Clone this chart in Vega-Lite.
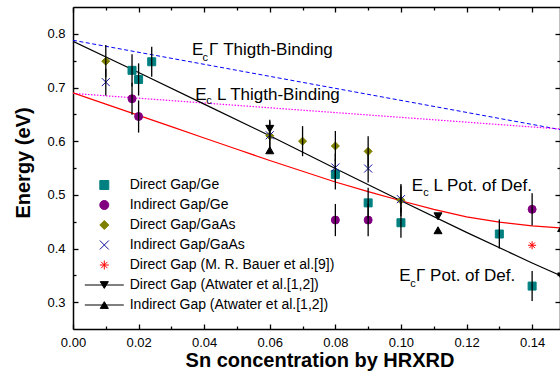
{
  "$schema": "https://vega.github.io/schema/vega-lite/v6.json",
  "width": 487,
  "height": 322,
  "autosize": {"type": "none"},
  "padding": {"left": 73, "top": 7, "right": 0, "bottom": 45},
  "config": {
    "view": {"stroke": null},
    "font": "Liberation Sans",
    "axis": {
      "grid": false,
      "domainColor": "#000",
      "domainWidth": 1.5,
      "tickColor": "#000",
      "tickWidth": 1.3,
      "labelColor": "#000",
      "labelFont": "Liberation Sans",
      "labelFontSize": 13,
      "titleFont": "Liberation Sans",
      "titleColor": "#000"
    }
  },
  "datasets": {
    "pts": [
      {"s": "Direct Gap/Ge", "x": 0.018, "y": 0.732, "lo": 0.702, "hi": 0.762},
      {"s": "Direct Gap/Ge", "x": 0.020, "y": 0.715, "lo": 0.685, "hi": 0.745},
      {"s": "Direct Gap/Ge", "x": 0.024, "y": 0.748, "lo": 0.720, "hi": 0.776},
      {"s": "Direct Gap/Ge", "x": 0.080, "y": 0.538, "lo": 0.510, "hi": 0.566},
      {"s": "Direct Gap/Ge", "x": 0.090, "y": 0.485, "lo": 0.457, "hi": 0.513},
      {"s": "Direct Gap/Ge", "x": 0.100, "y": 0.448, "lo": 0.420, "hi": 0.476},
      {"s": "Direct Gap/Ge", "x": 0.130, "y": 0.427, "lo": 0.400, "hi": 0.454},
      {"s": "Direct Gap/Ge", "x": 0.140, "y": 0.330, "lo": 0.302, "hi": 0.358},
      {"s": "Indirect Gap/Ge", "x": 0.018, "y": 0.679, "lo": 0.649, "hi": 0.709},
      {"s": "Indirect Gap/Ge", "x": 0.020, "y": 0.646, "lo": 0.616, "hi": 0.676},
      {"s": "Indirect Gap/Ge", "x": 0.080, "y": 0.453, "lo": 0.423, "hi": 0.483},
      {"s": "Indirect Gap/Ge", "x": 0.090, "y": 0.453, "lo": 0.423, "hi": 0.483},
      {"s": "Indirect Gap/Ge", "x": 0.140, "y": 0.473, "lo": 0.443, "hi": 0.503},
      {"s": "Direct Gap/GaAs", "x": 0.010, "y": 0.749, "lo": 0.719, "hi": 0.779},
      {"s": "Direct Gap/GaAs", "x": 0.060, "y": 0.610, "lo": 0.580, "hi": 0.640},
      {"s": "Direct Gap/GaAs", "x": 0.070, "y": 0.600, "lo": 0.572, "hi": 0.628},
      {"s": "Direct Gap/GaAs", "x": 0.080, "y": 0.591, "lo": 0.563, "hi": 0.619},
      {"s": "Direct Gap/GaAs", "x": 0.090, "y": 0.581, "lo": 0.553, "hi": 0.609},
      {"s": "Direct Gap/GaAs", "x": 0.100, "y": 0.490, "lo": 0.460, "hi": 0.520},
      {"s": "Indirect Gap/GaAs", "x": 0.010, "y": 0.710, "lo": 0.685, "hi": 0.735},
      {"s": "Indirect Gap/GaAs", "x": 0.060, "y": 0.611, "lo": 0.585, "hi": 0.637},
      {"s": "Indirect Gap/GaAs", "x": 0.080, "y": 0.551, "lo": 0.525, "hi": 0.577},
      {"s": "Indirect Gap/GaAs", "x": 0.090, "y": 0.549, "lo": 0.523, "hi": 0.575},
      {"s": "Indirect Gap/GaAs", "x": 0.100, "y": 0.492, "lo": 0.467, "hi": 0.517},
      {"s": "Direct Gap (M. R. Bauer et al.[9])", "x": 0.140, "y": 0.406},
      {"s": "Direct Gap (Atwater et al.[1,2])", "x": 0.060, "y": 0.623},
      {"s": "Direct Gap (Atwater et al.[1,2])", "x": 0.1113, "y": 0.460},
      {"s": "Direct Gap (Atwater et al.[1,2])", "x": 0.149, "y": 0.348},
      {"s": "Indirect Gap (Atwater et al.[1,2])", "x": 0.060, "y": 0.583},
      {"s": "Indirect Gap (Atwater et al.[1,2])", "x": 0.1113, "y": 0.434},
      {"s": "Indirect Gap (Atwater et al.[1,2])", "x": 0.149, "y": 0.438}
    ],
    "curves": [
      {"c": "gTB", "x": 0.0, "y": 0.788},
      {"c": "gTB", "x": 0.15, "y": 0.620},
      {"c": "lTB", "x": 0.0, "y": 0.689},
      {"c": "lTB", "x": 0.15, "y": 0.622},
      {"c": "gPD", "x": 0.00, "y": 0.786},
      {"c": "gPD", "x": 0.02, "y": 0.728},
      {"c": "gPD", "x": 0.04, "y": 0.669},
      {"c": "gPD", "x": 0.06, "y": 0.610},
      {"c": "gPD", "x": 0.08, "y": 0.549},
      {"c": "gPD", "x": 0.10, "y": 0.489},
      {"c": "gPD", "x": 0.12, "y": 0.430},
      {"c": "gPD", "x": 0.14, "y": 0.373},
      {"c": "gPD", "x": 0.15, "y": 0.346},
      {"c": "lPD", "x": 0.00, "y": 0.690},
      {"c": "lPD", "x": 0.01, "y": 0.669},
      {"c": "lPD", "x": 0.02, "y": 0.648},
      {"c": "lPD", "x": 0.03, "y": 0.627},
      {"c": "lPD", "x": 0.04, "y": 0.606},
      {"c": "lPD", "x": 0.05, "y": 0.585},
      {"c": "lPD", "x": 0.06, "y": 0.564},
      {"c": "lPD", "x": 0.07, "y": 0.544},
      {"c": "lPD", "x": 0.08, "y": 0.524},
      {"c": "lPD", "x": 0.09, "y": 0.506},
      {"c": "lPD", "x": 0.10, "y": 0.489},
      {"c": "lPD", "x": 0.11, "y": 0.473},
      {"c": "lPD", "x": 0.12, "y": 0.459},
      {"c": "lPD", "x": 0.13, "y": 0.449},
      {"c": "lPD", "x": 0.14, "y": 0.442},
      {"c": "lPD", "x": 0.15, "y": 0.438}
    ],
    "notes": [
      {"k": "main", "t": "E", "x": 0.0363, "y": 0.760},
      {"k": "sub", "t": "c", "x": 0.0395, "y": 0.749},
      {"k": "main", "t": "Γ Thigth-Binding", "x": 0.0415, "y": 0.760},
      {"k": "main", "t": "E", "x": 0.0373, "y": 0.676},
      {"k": "sub", "t": "c", "x": 0.0406, "y": 0.669},
      {"k": "main", "t": "L Thigth-Binding", "x": 0.0439, "y": 0.676},
      {"k": "main", "t": "E", "x": 0.1033, "y": 0.507},
      {"k": "sub", "t": "c", "x": 0.1068, "y": 0.497},
      {"k": "main", "t": "L Pot. of Def.", "x": 0.1099, "y": 0.507},
      {"k": "main", "t": "E", "x": 0.0995, "y": 0.339},
      {"k": "sub", "t": "c", "x": 0.1028, "y": 0.329},
      {"k": "main", "t": "Γ Pot. of Def.", "x": 0.1046, "y": 0.339}
    ]
  },
  "resolve": {
    "scale": {"fill": "independent", "stroke": "independent", "shape": "independent", "size": "independent"},
    "axis": {"x": "independent", "y": "independent"}
  },
  "layer": [
    {
      "data": {"name": "curves"},
      "transform": [{"filter": {"field": "c", "equal": "gTB"}}],
      "mark": {"type": "line", "stroke": "#0000ff", "strokeWidth": 1, "strokeDash": [4, 2.5], "clip": true},
      "encoding": {
        "x": {"field": "x", "type": "quantitative", "scale": {"domain": [0, 0.1485], "nice": false, "zero": false},
          "axis": {"orient": "bottom", "values": [0, 0.02, 0.04, 0.06, 0.08, 0.1, 0.12, 0.14], "format": ".2f", "tickSize": -5, "labelPadding": 22.7, "labelBaseline": "alphabetic", "labelFlush": false, "labelOverlap": false,
            "title": "Sn concentration by HRXRD", "titleFontSize": 20, "titleFontWeight": "bold", "titleX": 246.5, "titleY": 37.7, "titleBaseline": "alphabetic", "titleAlign": "center", "titleAnchor": null}},
        "y": {"field": "y", "type": "quantitative", "scale": {"domain": [0.25, 0.85], "nice": false, "zero": false},
          "axis": {"orient": "left", "values": [0.3, 0.4, 0.5, 0.6, 0.7, 0.8], "format": ".1f", "tickSize": -5, "labelPadding": 13, "labelFlush": false, "labelOverlap": false,
            "title": "Energy (eV)", "titleFontSize": 20, "titleFontWeight": "bold", "titleX": -43.7, "titleY": 155.5, "titleBaseline": "alphabetic", "titleAlign": "center", "titleAngle": -90, "titleAnchor": null}}
      }
    },
    {
      "data": {"name": "curves"},
      "transform": [{"filter": {"field": "c", "equal": "lTB"}}],
      "mark": {"type": "line", "stroke": "#ff00ff", "strokeWidth": 1.2, "strokeDash": [1.5, 1.5], "clip": true},
      "encoding": {
        "x": {"field": "x", "type": "quantitative", "scale": {"domain": [0, 0.1485], "nice": false, "zero": false},
          "axis": {"orient": "bottom", "values": [0.01, 0.03, 0.05, 0.07, 0.09, 0.11, 0.13], "labels": false, "domain": false, "tickSize": -3, "title": null}},
        "y": {"field": "y", "type": "quantitative", "scale": {"domain": [0.25, 0.85], "nice": false, "zero": false},
          "axis": {"orient": "left", "values": [0.35, 0.45, 0.55, 0.65, 0.75], "labels": false, "domain": false, "tickSize": -3, "title": null}}
      }
    },
    {
      "data": {"name": "curves"},
      "transform": [{"filter": {"field": "c", "equal": "lPD"}}],
      "mark": {"type": "line", "stroke": "#ff0000", "strokeWidth": 1.2, "clip": true},
      "encoding": {
        "x": {"field": "x", "type": "quantitative", "scale": {"domain": [0, 0.1485], "nice": false, "zero": false},
          "axis": {"orient": "top", "values": [0, 0.02, 0.04, 0.06, 0.08, 0.1, 0.12, 0.14], "labels": false, "tickSize": -5, "title": null}},
        "y": {"field": "y", "type": "quantitative", "scale": {"domain": [0.25, 0.85], "nice": false, "zero": false},
          "axis": {"orient": "right", "values": [0.3, 0.4, 0.5, 0.6, 0.7, 0.8], "labels": false, "tickSize": -5, "title": null}}
      }
    },
    {
      "data": {"name": "curves"},
      "transform": [{"filter": {"field": "c", "equal": "gPD"}}],
      "mark": {"type": "line", "stroke": "#000000", "strokeWidth": 1.2, "clip": true},
      "encoding": {
        "x": {"field": "x", "type": "quantitative", "scale": {"domain": [0, 0.1485], "nice": false, "zero": false},
          "axis": {"orient": "top", "values": [0.01, 0.03, 0.05, 0.07, 0.09, 0.11, 0.13], "labels": false, "domain": false, "tickSize": -3, "title": null}},
        "y": {"field": "y", "type": "quantitative", "scale": {"domain": [0.25, 0.85], "nice": false, "zero": false},
          "axis": {"orient": "right", "values": [0.35, 0.45, 0.55, 0.65, 0.75], "labels": false, "domain": false, "tickSize": -3, "title": null}}
      }
    },
    {
      "data": {"name": "pts"},
      "mark": {"type": "point", "filled": true, "strokeWidth": 1, "opacity": 1, "clip": true},
      "encoding": {
        "x": {"field": "x", "type": "quantitative", "scale": {"domain": [0, 0.1485], "nice": false, "zero": false}, "axis": null},
        "y": {"field": "y", "type": "quantitative", "scale": {"domain": [0.25, 0.85], "nice": false, "zero": false}, "axis": null},
        "fill": {"field": "s", "type": "nominal", "legend": null,
          "scale": {"domain": ["Direct Gap/Ge", "Indirect Gap/Ge", "Direct Gap/GaAs", "Indirect Gap/GaAs", "Direct Gap (M. R. Bauer et al.[9])", "Direct Gap (Atwater et al.[1,2])", "Indirect Gap (Atwater et al.[1,2])"],
            "range": ["#008080", "#800080", "#808000", "#1010a0", "#ff0000", "#000000", "#000000"]}},
        "stroke": {"field": "s", "type": "nominal", "legend": null,
          "scale": {"domain": ["Direct Gap/Ge", "Indirect Gap/Ge", "Direct Gap/GaAs", "Indirect Gap/GaAs", "Direct Gap (M. R. Bauer et al.[9])", "Direct Gap (Atwater et al.[1,2])", "Indirect Gap (Atwater et al.[1,2])"],
            "range": ["#008080", "#800080", "#808000", "#1010a0", "#ff0000", "#000000", "#000000"]}},
        "shape": {"field": "s", "type": "nominal", "legend": null,
          "scale": {"domain": ["Direct Gap/Ge", "Indirect Gap/Ge", "Direct Gap/GaAs", "Indirect Gap/GaAs", "Direct Gap (M. R. Bauer et al.[9])", "Direct Gap (Atwater et al.[1,2])", "Indirect Gap (Atwater et al.[1,2])"],
            "range": ["square", "circle", "diamond", "M-1,-1L1,1M-1,1L1,-1", "M-1,0L1,0M0,-1L0,1M-0.7,-0.7L0.7,0.7M-0.7,0.7L0.7,-0.7", "triangle-down", "triangle-up"]}},
        "size": {"field": "s", "type": "ordinal", "legend": null,
          "scale": {"domain": ["Direct Gap/Ge", "Indirect Gap/Ge", "Direct Gap/GaAs", "Indirect Gap/GaAs", "Direct Gap (M. R. Bauer et al.[9])", "Direct Gap (Atwater et al.[1,2])", "Indirect Gap (Atwater et al.[1,2])"],
            "range": [64, 64, 81, 70, 64, 100, 100]}}
      }
    },
    {
      "data": {"name": "pts"},
      "transform": [{"filter": {"field": "lo", "valid": true}}],
      "mark": {"type": "rule", "color": "#000000", "strokeWidth": 1.3, "clip": true},
      "encoding": {
        "x": {"field": "x", "type": "quantitative", "scale": {"domain": [0, 0.1485], "nice": false, "zero": false}, "axis": null},
        "y": {"field": "lo", "type": "quantitative", "scale": {"domain": [0.25, 0.85], "nice": false, "zero": false}, "axis": null},
        "y2": {"field": "hi"}
      }
    },
    {
      "data": {"name": "notes"},
      "transform": [{"filter": {"field": "k", "equal": "main"}}],
      "mark": {"type": "text", "align": "left", "baseline": "alphabetic", "fontSize": 17, "font": "Liberation Sans", "color": "#000000"},
      "encoding": {
        "x": {"field": "x", "type": "quantitative", "scale": {"domain": [0, 0.1485], "nice": false, "zero": false}, "axis": null},
        "y": {"field": "y", "type": "quantitative", "scale": {"domain": [0.25, 0.85], "nice": false, "zero": false}, "axis": null},
        "text": {"field": "t"}
      }
    },
    {
      "data": {"name": "notes"},
      "transform": [{"filter": {"field": "k", "equal": "sub"}}],
      "mark": {"type": "text", "align": "left", "baseline": "alphabetic", "fontSize": 11, "font": "Liberation Sans", "color": "#000000"},
      "encoding": {
        "x": {"field": "x", "type": "quantitative", "scale": {"domain": [0, 0.1485], "nice": false, "zero": false}, "axis": null},
        "y": {"field": "y", "type": "quantitative", "scale": {"domain": [0.25, 0.85], "nice": false, "zero": false}, "axis": null},
        "text": {"field": "t"}
      }
    },
    {
      "data": {"name": "pts"},
      "transform": [{"filter": {"field": "x", "gt": 1}}],
      "mark": {"type": "point", "filled": true, "strokeWidth": 1, "size": 81},
      "encoding": {
        "x": {"field": "x", "type": "quantitative", "scale": {"domain": [0, 0.1485], "nice": false, "zero": false}, "axis": null},
        "y": {"field": "y", "type": "quantitative", "scale": {"domain": [0.25, 0.85], "nice": false, "zero": false}, "axis": null},
        "fill": {"field": "s", "type": "nominal",
          "legend": {"orient": "none", "legendX": 24.3, "legendY": 171, "title": null, "labelFontSize": 14, "labelFont": "Liberation Sans", "labelColor": "#000", "labelOffset": 18.4, "rowPadding": 6, "padding": 0, "symbolSize": 81, "symbolStrokeWidth": 1, "symbolOpacity": 1, "labelLimit": 400},
          "scale": {"domain": ["Direct Gap/Ge", "Indirect Gap/Ge", "Direct Gap/GaAs", "Indirect Gap/GaAs", "Direct Gap (M. R. Bauer et al.[9])", "Direct Gap (Atwater et al.[1,2])", "Indirect Gap (Atwater et al.[1,2])"],
            "range": ["#008080", "#800080", "#808000", "#1010a0", "#ff0000", "#000000", "#000000"]}},
        "stroke": {"field": "s", "type": "nominal",
          "legend": {"orient": "none", "legendX": 24.3, "legendY": 171, "title": null, "labelFontSize": 14, "labelFont": "Liberation Sans", "labelColor": "#000", "labelOffset": 18.4, "rowPadding": 6, "padding": 0, "symbolSize": 81, "symbolStrokeWidth": 1, "symbolOpacity": 1, "labelLimit": 400},
          "scale": {"domain": ["Direct Gap/Ge", "Indirect Gap/Ge", "Direct Gap/GaAs", "Indirect Gap/GaAs", "Direct Gap (M. R. Bauer et al.[9])", "Direct Gap (Atwater et al.[1,2])", "Indirect Gap (Atwater et al.[1,2])"],
            "range": ["#008080", "#800080", "#808000", "#1010a0", "#ff0000", "#000000", "#000000"]}},
        "shape": {"field": "s", "type": "nominal",
          "legend": {"orient": "none", "legendX": 24.3, "legendY": 171, "title": null, "labelFontSize": 14, "labelFont": "Liberation Sans", "labelColor": "#000", "labelOffset": 18.4, "rowPadding": 6, "padding": 0, "symbolSize": 81, "symbolStrokeWidth": 1, "symbolOpacity": 1, "labelLimit": 400},
          "scale": {"domain": ["Direct Gap/Ge", "Indirect Gap/Ge", "Direct Gap/GaAs", "Indirect Gap/GaAs", "Direct Gap (M. R. Bauer et al.[9])", "Direct Gap (Atwater et al.[1,2])", "Indirect Gap (Atwater et al.[1,2])"],
            "range": ["square", "circle", "diamond", "M-1,-1L1,1M-1,1L1,-1", "M-1,0L1,0M0,-1L0,1M-0.7,-0.7L0.7,0.7M-0.7,0.7L0.7,-0.7", "M-4.33,0L4.33,0M-0.9,-0.75L0.9,-0.75L0,0.75Z", "M-4.33,0L4.33,0M-0.9,0.75L0.9,0.75L0,-0.75Z"]}}
      }
    }
  ]
}
